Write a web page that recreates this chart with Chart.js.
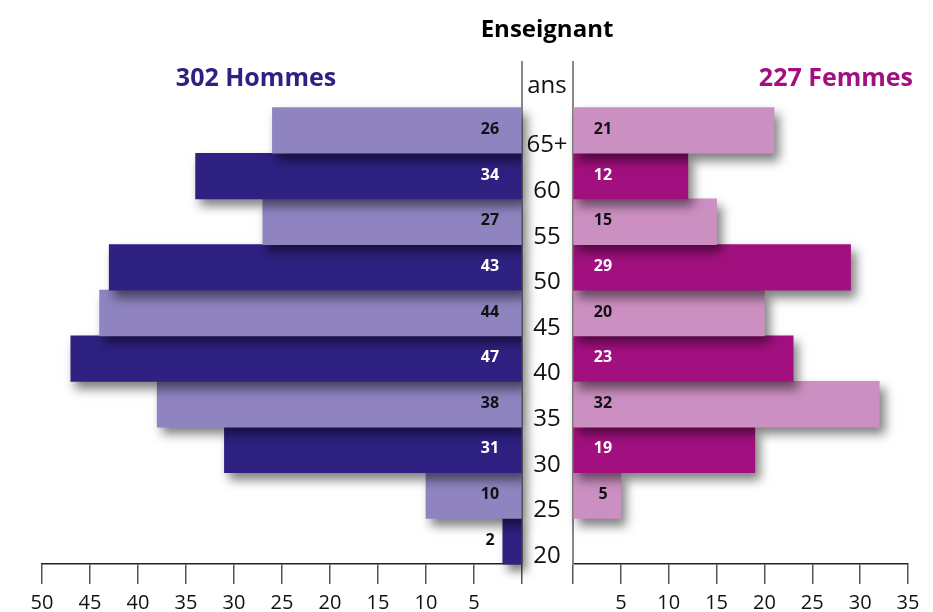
<!DOCTYPE html>
<html>
<head>
<meta charset="utf-8">
<script src="https://cdn.jsdelivr.net/npm/chart.js@4"></script>
<style>
  html, body { margin: 0; background: #fff; }
  #wrap { position: relative; width: 933px; height: 612px; }
  canvas { position: absolute; left: 0; top: 0; }
</style>
</head>
<body>
<div id="wrap">
  <canvas id="men" width="933" height="612"></canvas>
  <canvas id="women" width="933" height="612"></canvas>
</div>
<script>
// bottom to top, last row is the column header
const ageLabels = ['20', '25', '30', '35', '40', '45', '50', '55', '60', '65+', 'ans'];
const menValues = [2, 10, 31, 38, 47, 44, 43, 27, 34, 26];
const womenValues = [null, 5, 19, 32, 23, 20, 29, 15, 12, 21];
const menTicks = [0, 5, 10, 15, 20, 25, 30, 35, 40, 45, 50];
const womenTicks = [0, 5, 10, 15, 20, 25, 30, 35];

const menColors = ['#2e2181', '#8f84c0'];     // dark, light
const womenColors = ['#a2107f', '#cc8fc1'];

Chart.defaults.font.family = '"Open Sans", "Noto Sans", sans-serif';

const shadow = {
  id: 'shadow',
  beforeDatasetsDraw(chart) {
    const ctx = chart.ctx;
    ctx.save();
    ctx.shadowColor = 'rgba(0,0,0,0.5)';
    ctx.shadowBlur = 10;
    ctx.shadowOffsetX = 5;
    ctx.shadowOffsetY = 7;
  },
  afterDatasetsDraw(chart) {
    chart.ctx.restore();
  }
};

function valueLabels(offset) {
  return {
    id: 'vals',
    afterDatasetsDraw(chart) {
      const ctx = chart.ctx;
      const meta = chart.getDatasetMeta(0);
      const zero = chart.scales.x.getPixelForValue(0);
      const data = chart.data.datasets[0].data;
      ctx.save();
      ctx.font = 'bold 16px "Open Sans"';
      ctx.textAlign = 'center';
      ctx.textBaseline = 'middle';
      meta.data.forEach((bar, i) => {
        const v = data[i];
        if (v == null) return;
        const inside = Math.abs(bar.x - zero) > Math.abs(offset) + 12;
        ctx.fillStyle = (i % 2 === 0 && inside) ? '#fff' : '#111';
        ctx.fillText(v, zero + offset, bar.y - 1);
      });
      ctx.restore();
    }
  };
}

const headers = {
  id: 'headers',
  afterDraw(chart) {
    const ctx = chart.ctx;
    const ys = chart.scales.y;
    ctx.save();
    ctx.textBaseline = 'middle';
    ctx.font = 'bold 24px "Open Sans"';
    ctx.textAlign = 'center';
    ctx.fillStyle = '#000';
    ctx.fillText('Enseignant', 547, 30);
    ctx.font = 'bold 25px "Open Sans"';
    ctx.fillStyle = menColors[0];
    ctx.fillText('302 Hommes', 256, 79);
    ctx.fillStyle = womenColors[0];
    ctx.textAlign = 'right';
    ctx.fillText('227 Femmes', 913, 79);

    ctx.font = '24px "Open Sans"';
    ctx.fillStyle = '#111';
    ctx.textAlign = 'center';
    ageLabels.forEach((lab, i) => {
      const y = ys.getPixelForValue(i) + (lab === 'ans' ? 1 : 15);
      ctx.fillText(lab, 547, y);
    });
    ctx.restore();
  }
};

function axisX(ticksArr, reverse, max) {
  return {
    type: 'linear',
    reverse: reverse,
    min: 0,
    max: max,
    afterBuildTicks: s => { s.ticks = ticksArr.map(v => ({ value: v })); },
    afterFit: s => { s.height = 48; },
    grid: { display: true, drawOnChartArea: false, drawTicks: true, tickLength: 20, color: '#555', lineWidth: 1.5 },
    border: { display: true, color: '#222', width: 1.5 },
    ticks: { padding: 7, color: '#111', font: { size: 20 }, callback: v => v === 0 ? '' : v }
  };
}

function axisY(pos) {
  return {
    type: 'category',
    reverse: true,
    position: pos,
    afterFit: s => { s.width = 0; },
    grid: { display: false },
    border: { display: true, color: '#888', width: 2 },
    ticks: { display: false }
  };
}

function barColors(values, pair) {
  return values.map((v, i) => pair[i % 2]);
}

new Chart('men', {
  type: 'bar',
  data: {
    labels: ageLabels,
    datasets: [{
      data: menValues,
      backgroundColor: barColors(menValues, menColors),
      barPercentage: 1,
      categoryPercentage: 1,
      borderWidth: 0,
      clip: false
    }]
  },
  options: {
    indexAxis: 'y',
    responsive: false,
    animation: false,
    layout: { padding: { left: 42, right: 411, top: 62, bottom: 0 } },
    plugins: { legend: { display: false }, tooltip: { enabled: false } },
    scales: { x: axisX(menTicks, true, 50), y: axisY('right') }
  },
  plugins: [shadow, valueLabels(-32), headers]
});

new Chart('women', {
  type: 'bar',
  data: {
    labels: ageLabels,
    datasets: [{
      data: womenValues,
      backgroundColor: barColors(womenValues, womenColors),
      barPercentage: 1,
      categoryPercentage: 1,
      borderWidth: 0,
      clip: false
    }]
  },
  options: {
    indexAxis: 'y',
    responsive: false,
    animation: false,
    layout: { padding: { left: 573, right: 25, top: 62, bottom: 0 } },
    plugins: { legend: { display: false }, tooltip: { enabled: false } },
    scales: { x: axisX(womenTicks, false, 35), y: axisY('left') }
  },
  plugins: [shadow, valueLabels(30)]
});
</script>
</body>
</html>
